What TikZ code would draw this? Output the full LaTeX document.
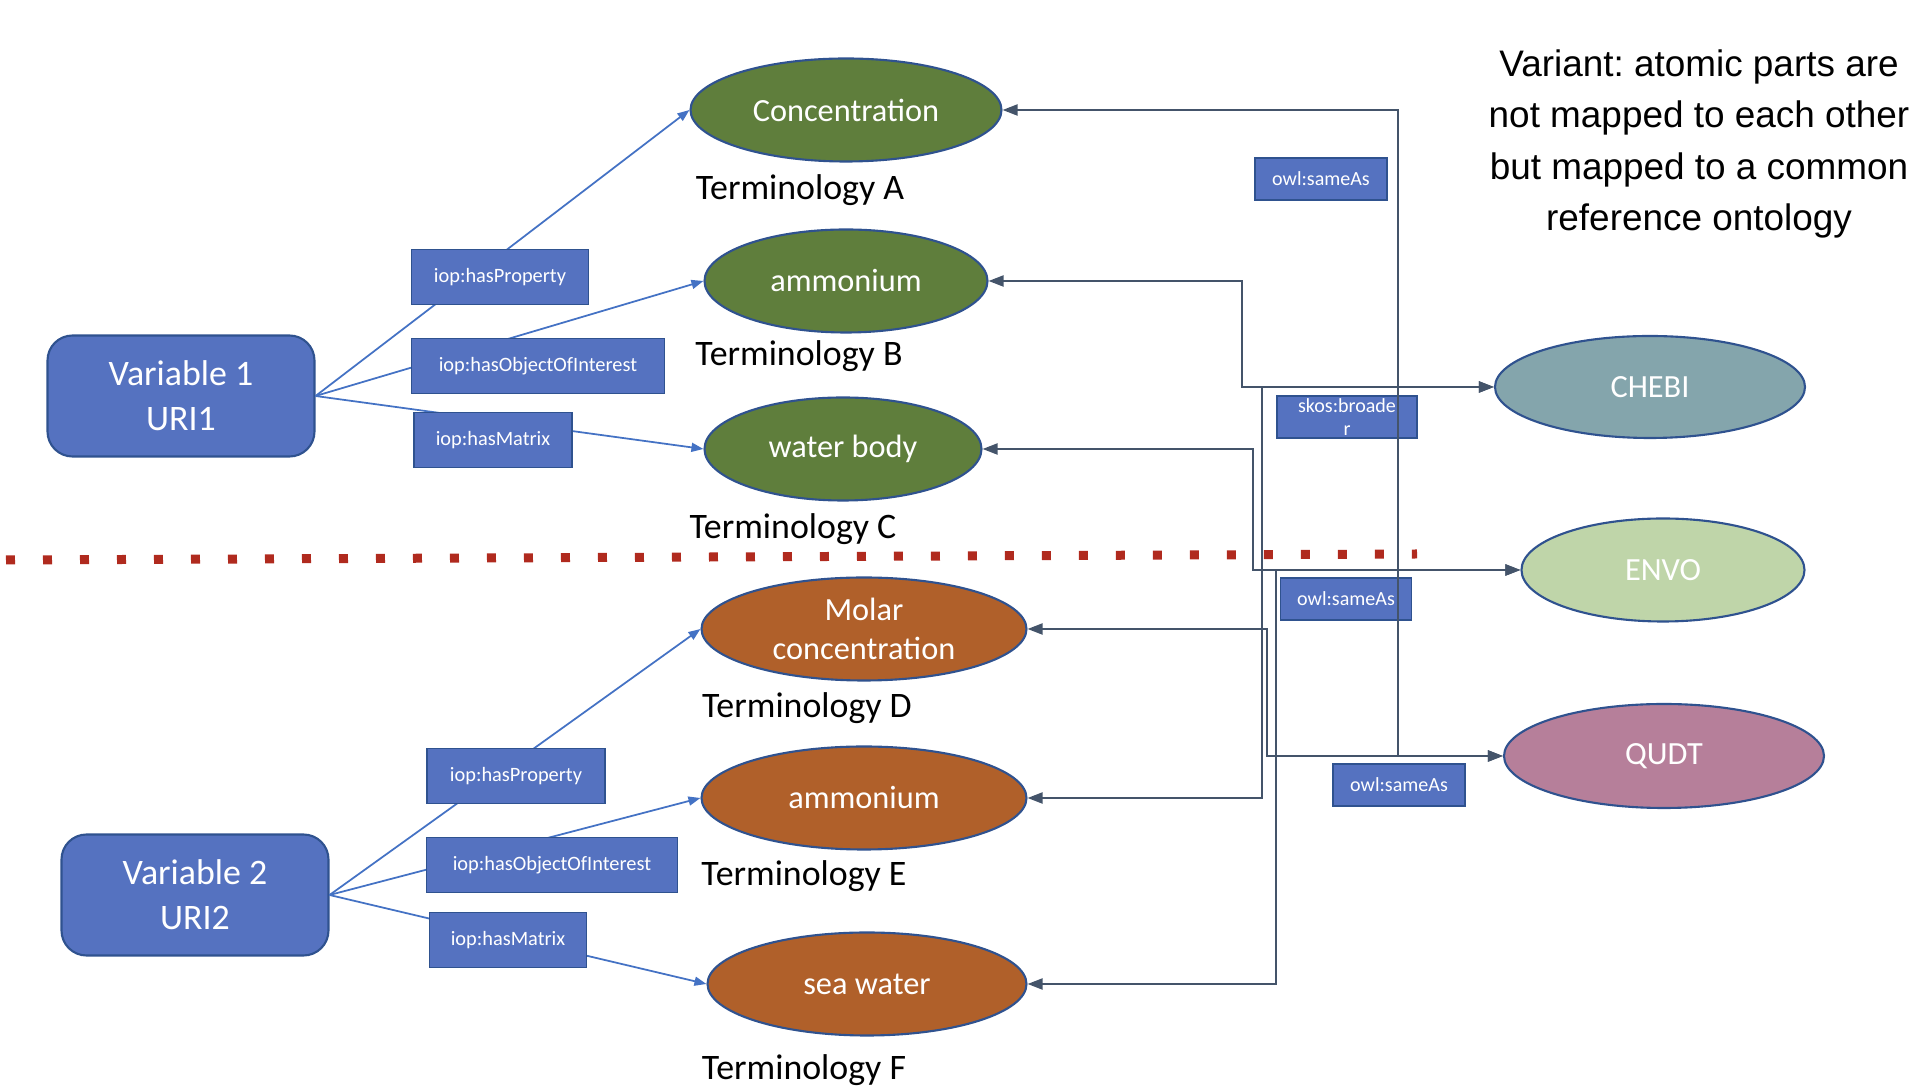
\documentclass[tikz,border=0pt]{standalone}
\usepackage{fontspec}
\setmainfont{Carlito}
\newfontfamily\notefont{Liberation Sans}
\usetikzlibrary{shapes.geometric,arrows.meta}
\definecolor{varblue}{RGB}{85,114,192}
\definecolor{edgeblue}{RGB}{47,82,143}
\definecolor{linkblue}{RGB}{68,114,196}
\definecolor{termgreen}{RGB}{95,126,60}
\definecolor{termorange}{RGB}{176,96,42}
\definecolor{chebicol}{RGB}{132,165,172}
\definecolor{envocol}{RGB}{191,213,169}
\definecolor{qudtcol}{RGB}{182,127,154}
\definecolor{mapgray}{RGB}{68,84,106}
\definecolor{dotred}{RGB}{176,42,30}
\frenchspacing
\begin{document}
\begin{tikzpicture}[
  varbox/.style={rectangle, rounded corners=0.25cm, fill=varblue, draw=edgeblue, line width=0.6pt,
    text=white, minimum width=2.67cm, minimum height=1.21cm, align=center, font=\fontsize{10.2}{12.7}\selectfont},
  termnode/.style={ellipse, draw=edgeblue, line width=0.6pt, text=white, inner sep=0pt,
    minimum height=1.03cm, align=center, font=\fontsize{9.2}{11.2}\selectfont},
  relbox/.style={rectangle, fill=varblue, draw=edgeblue, line width=0.5pt, text=white,
    minimum height=0.55cm, inner sep=0pt, font=\fontsize{5.8}{7}\selectfont},
  samebox/.style={relbox, minimum height=0.42cm, align=center, font=\fontsize{5.7}{6.5}\selectfont},
  relline/.style={linkblue, line width=0.5pt, -{Triangle[length=0.12cm,width=0.09cm]}},
  mapline/.style={mapgray, line width=0.6pt,
    {Triangle[length=0.15cm,width=0.11cm]}-{Triangle[length=0.15cm,width=0.11cm]}}
]
  \useasboundingbox (0,0) rectangle (19.30,-10.92);
  % Variables
  \node[varbox] (v1) at (1.81,-3.96) {Variable 1\\URI1};
  \node[varbox] (v2) at (1.95,-8.95) {Variable 2\\URI2};
  % Terminologies
  \node[termnode, fill=termgreen, minimum width=3.11cm] (conc) at (8.46,-1.10) {Concentration};
  \node[termnode, fill=termgreen, minimum width=2.83cm] (ammb) at (8.46,-2.81) {ammonium};
  \node[termnode, fill=termgreen, minimum width=2.77cm] (water) at (8.43,-4.49) {water body};
  \node[termnode, fill=termorange, minimum width=3.25cm] (molar) at (8.64,-6.29) {Molar\\concentration};
  \node[termnode, fill=termorange, minimum width=3.25cm] (amme) at (8.64,-7.98) {ammonium};
  \node[termnode, fill=termorange, minimum width=3.19cm] (sea) at (8.67,-9.84) {sea water};
  \foreach \x/\y/\t in {8.00/1.90/A, 7.99/3.56/B, 7.93/5.29/C, 8.07/7.08/D, 8.04/8.76/E, 8.04/10.70/F}
    \node[font=\fontsize{10.2}{12}\selectfont] (term\t) at (\x,-\y) {Terminology \t};
  % Reference ontologies
  \node[termnode, fill=chebicol, minimum width=3.10cm, minimum height=1.02cm] (chebi) at (16.50,-3.87) {CHEBI};
  \node[termnode, fill=envocol, minimum width=2.83cm] (envo) at (16.63,-5.70) {ENVO};
  \node[termnode, fill=qudtcol, minimum width=3.20cm, minimum height=1.04cm] (qudt) at (16.64,-7.56) {QUDT};
  % Separator
  \draw[dotred, line width=0.09cm, dash pattern=on 0.09cm off 0.28cm] (0.06,-5.60) -- (14.17,-5.54);
  % Links of the variables
  \foreach \t in {conc,ammb,water}
    \draw[relline] (v1.east) -- (\t.west);
  \foreach \t in {molar,amme,sea}
    \draw[relline] (v2.east) -- (\t.west);
  \node[relbox, minimum width=1.77cm] (prop1) at (5.00,-2.77) {iop:hasProperty};
  \node[relbox, minimum width=2.53cm] (obj1) at (5.38,-3.66) {iop:hasObjectOfInterest};
  \node[relbox, minimum width=1.58cm] (mat1) at (4.93,-4.40) {iop:hasMatrix};
  \node[relbox, minimum width=1.78cm] (prop2) at (5.16,-7.76) {iop:hasProperty};
  \node[relbox, minimum width=2.51cm] (obj2) at (5.52,-8.65) {iop:hasObjectOfInterest};
  \node[relbox, minimum width=1.57cm] (mat2) at (5.08,-9.40) {iop:hasMatrix};
  % Mappings
  \node[samebox, minimum width=1.32cm] (same1) at (13.21,-1.79) {owl:sameAs};
  \node[samebox, minimum width=1.40cm] (broad) at (13.47,-4.17) {skos:broade\\r};
  \node[samebox, minimum width=1.31cm] (same2) at (13.46,-5.99) {owl:sameAs};
  \node[samebox, minimum width=1.32cm] (same3) at (13.99,-7.85) {owl:sameAs};
  \draw[mapline] (conc.east) -- ++(3.95,0) |- (qudt.west);
  \draw[mapline] (ammb.east) -- ++(2.53,0) |- (chebi.west);
  \draw[mapline] (water.east) -- ++(2.70,0) |- (envo.west);
  \draw[mapline] (molar.east) -- ++(2.39,0) |- (qudt.west);
  \draw[mapline] (amme.east) -- ++(2.34,0) |- (chebi.west);
  \draw[mapline] (sea.east) -- ++(2.48,0) |- (envo.west);
  % Note
  \node[font=\notefont\fontsize{10.5}{14.6}\selectfont, align=center, anchor=north, inner sep=0pt]
    (note) at (16.99,-0.49) {Variant: atomic parts are\\not mapped to each other\\but mapped to a common\\reference ontology};
\end{tikzpicture}
\end{document}
